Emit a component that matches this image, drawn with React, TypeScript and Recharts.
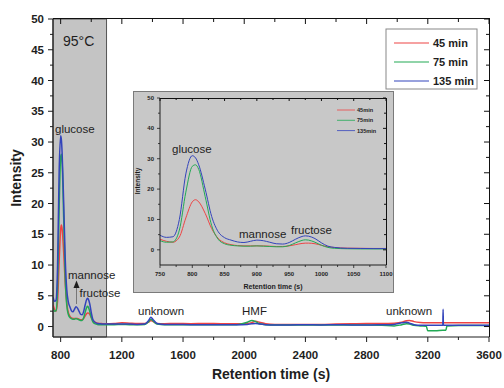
import React from "react";
import { LineChart, Line, XAxis, YAxis, ReferenceArea } from "recharts";

// retention time (s) and intensity of the three reaction times
const time = [
  750, 760, 770, 780, 790, 800, 805, 810, 820, 830, 840, 850, 860, 870, 880, 890, 900, 910, 920, 930,
  940, 950, 960, 970, 975, 980, 990, 1000, 1010, 1020, 1040, 1060, 1080, 1100, 1150, 1200, 1250, 1300,
  1350, 1375, 1390, 1405, 1430, 1480, 1550, 1650, 1750, 1850, 1950, 2020, 2050, 2075, 2100, 2140, 2200,
  2300, 2400, 2500, 2600, 2700, 2800, 2900, 2980, 3030, 3060, 3080, 3110, 3150, 3190, 3200, 3250, 3298,
  3300, 3302, 3318, 3325, 3400, 3500, 3600,
];
const min45 = [
  3.5, 2.8, 2.5, 4.2, 10.5, 15.8, 16.5, 15.8, 12, 7, 3.8, 2.3, 1.7, 1.4, 1.3, 1.3, 1.3, 1.3, 1.2, 1.1,
  1.1, 1.3, 1.7, 2.1, 2.2, 2.2, 2.0, 1.5, 1.0, 0.75, 0.55, 0.5, 0.45, 0.45, 0.5, 0.6, 0.55, 0.5,
  0.5, 0.7, 1.0, 0.8, 0.5, 0.45, 0.5, 0.45, 0.5, 0.45, 0.45, 0.5, 0.65, 0.85, 0.7, 0.45, 0.35,
  0.35, 0.35, 0.35, 0.4, 0.45, 0.5, 0.5, 0.55, 0.7, 0.95, 1.0, 0.8, 0.65, 0.6, 0.6, 0.6, 0.6,
  0.6, 0.6, 0.6, 0.6, 0.6, 0.6, 0.6,
];
const min75 = [
  3.0, 2.5, 2.6, 6.5, 19, 27.5, 28, 26.5, 17.5, 8, 3.5, 2.0, 1.5, 1.3, 1.2, 1.2, 1.3, 1.2, 1.1, 1.0,
  1.0, 1.4, 2.3, 3.1, 3.3, 3.2, 2.5, 1.5, 0.8, 0.5, 0.35, 0.3, 0.3, 0.3, 0.3, 0.35, 0.3, 0.3,
  0.35, 0.8, 1.2, 0.9, 0.4, 0.3, 0.3, 0.3, 0.3, 0.3, 0.3, 0.7, 1.0, 0.8, 0.45, 0.3, 0.25,
  0.25, 0.25, 0.25, 0.25, 0.25, 0.25, 0.2, 0.1, 0.3, 0.45, 0.4, 0.2, 0.1, 0.05, -0.7, -0.7, -0.6,
  -0.6, -0.6, -0.6, 0.1, 0.15, 0.15, 0.15,
];
const min135 = [
  4.8, 4.1, 4.3, 10, 25, 31, 30.3, 28, 20, 11, 6, 4, 3.2, 2.6, 2.4, 2.8, 3.2, 3.0, 2.5, 2.0,
  1.9, 2.4, 3.5, 4.4, 4.6, 4.5, 3.7, 2.3, 1.2, 0.8, 0.5, 0.45, 0.4, 0.4, 0.4, 0.4, 0.4, 0.35,
  0.4, 1.0, 1.5, 1.1, 0.5, 0.35, 0.35, 0.3, 0.3, 0.3, 0.3, 0.35, 0.45, 0.5, 0.4, 0.3, 0.25,
  0.25, 0.3, 0.25, 0.3, 0.25, 0.25, 0.3, 0.35, 0.6, 0.7, 0.55, 0.3, 0.2, 0.2, 0.2, 0.2, 0.2,
  2.8, 0.2, 0.2, 0.2, 0.2, 0.2, 0.2,
];

const seriesNames = ["45 min", "75 min", "135 min"];
const insetNames = ["45min", "75min", "135min"];
const colors = ["#ee4444", "#22aa55", "#3344bb"];
const keys = ["a", "b", "c"];

const xMainTicks = [800, 1000, 1200, 1400, 1600, 1800, 2000, 2200, 2400, 2600, 2800, 3000, 3200, 3400, 3600];
const yMainTicks = [0, 2.5, 5, 7.5, 10, 12.5, 15, 17.5, 20, 22.5, 25, 27.5, 30, 32.5, 35, 37.5, 40, 42.5, 45, 47.5, 50];
const xInsetTicks = [750, 775, 800, 825, 850, 875, 900, 925, 950, 975, 1000, 1025, 1050, 1075, 1100];
const yInsetTicks = [0, 5, 10, 15, 20, 25, 30, 35, 40, 45, 50];

const data = time.map((t, i) => ({ t, a: min45[i], b: min75[i], c: min135[i] }));

const FONT = "'Liberation Sans', Arial, sans-serif";
const INK = "#1e1e1e";

// plot boxes (page px) and domains, shared by charts and frame overlay
const MAIN = { l: 53, r: 489, t: 19, b: 337, x0: 750, x1: 3600, y0: -1.7, y1: 50 };
const INSET = { l: 160, r: 386, t: 98, b: 265, x0: 750, x1: 1100, y0: -5, y1: 50 };

const BottomTick = (p: any) => {
  const major = p.payload.value % 400 === 0;
  return (
    <g>
      <line x1={p.x} x2={p.x} y1={p.y} y2={p.y + (major ? 5 : 3)} stroke={INK} />
      {major && (
        <text x={p.x} y={p.y + 22} textAnchor="middle" fontSize={11.5} fontWeight="bold" fill={INK} fontFamily={FONT}>
          {p.payload.value}
        </text>
      )}
    </g>
  );
};
const LeftTick = (p: any) => {
  const major = p.payload.value % 5 === 0;
  return (
    <g>
      <line x1={p.x - (major ? 5 : 3)} x2={p.x} y1={p.y} y2={p.y} stroke={INK} />
      {major && (
        <text x={p.x - 9} y={p.y + 4} textAnchor="end" fontSize={11.5} fontWeight="bold" fill={INK} fontFamily={FONT}>
          {p.payload.value}
        </text>
      )}
    </g>
  );
};
const InsetBottomTick = (p: any) => {
  const major = p.payload.value % 50 === 0;
  return (
    <g>
      <line x1={p.x} x2={p.x} y1={p.y} y2={p.y + (major ? 3 : 2)} stroke={INK} strokeWidth={0.8} />
      {major && (
        <text x={p.x} y={p.y + 11} textAnchor="middle" fontSize={6} fontWeight="bold" fill={INK} fontFamily={FONT}>
          {p.payload.value}
        </text>
      )}
    </g>
  );
};
const InsetLeftTick = (p: any) => {
  const major = p.payload.value % 10 === 0;
  return (
    <g>
      <line x1={p.x - (major ? 3 : 2)} x2={p.x} y1={p.y} y2={p.y} stroke={INK} strokeWidth={0.8} />
      {major && (
        <text x={p.x - 6} y={p.y + 2} textAnchor="end" fontSize={6} fontWeight="bold" fill={INK} fontFamily={FONT}>
          {p.payload.value}
        </text>
      )}
    </g>
  );
};

const MainChart = () => (
  <LineChart width={504} height={388} data={data} margin={{ top: MAIN.t, right: 504 - MAIN.r, left: 0, bottom: 0 }}>
    <XAxis
      xAxisId="x"
      dataKey="t"
      type="number"
      domain={[MAIN.x0, MAIN.x1]}
      allowDataOverflow
      ticks={xMainTicks}
      interval={0}
      tickSize={0}
      tickMargin={0}
      height={388 - MAIN.b}
      tick={BottomTick}
      axisLine={{ stroke: INK, strokeWidth: 1.2 }}
    />
    <YAxis
      yAxisId="y"
      type="number"
      domain={[MAIN.y0, MAIN.y1]}
      allowDataOverflow
      ticks={yMainTicks}
      interval={0}
      tickSize={0}
      tickMargin={0}
      width={MAIN.l}
      tick={LeftTick}
      axisLine={{ stroke: INK, strokeWidth: 1.2 }}
    />
    <ReferenceArea xAxisId="x" yAxisId="y" x1={750} x2={1100} fill="#c4c4c4" fillOpacity={1} stroke="#555" strokeWidth={1} />
    {keys.map((k, i) => (
      <Line
        key={k}
        xAxisId="x"
        yAxisId="y"
        dataKey={k}
        name={seriesNames[i]}
        type="monotone"
        stroke={colors[i]}
        strokeWidth={1.5}
        dot={false}
        isAnimationActive={false}
      />
    ))}
  </LineChart>
);

const InsetChart = () => (
  <div
    style={{
      position: "absolute",
      left: 133,
      top: 91,
      width: 261,
      height: 202,
      boxSizing: "border-box",
      background: "#c8c8c8",
      border: "1px solid #7a7a7a",
    }}
  >
    <LineChart width={259} height={200} data={data} margin={{ top: INSET.t - 92, right: 393 - INSET.r, left: 0, bottom: 0 }}>
      <XAxis
        xAxisId="x"
        dataKey="t"
        type="number"
        domain={[INSET.x0, INSET.x1]}
        allowDataOverflow
        ticks={xInsetTicks}
        interval={0}
        tickSize={0}
        tickMargin={0}
        height={292 - INSET.b}
        tick={InsetBottomTick}
        axisLine={{ stroke: INK, strokeWidth: 1 }}
      />
      <YAxis
        yAxisId="y"
        type="number"
        domain={[INSET.y0, INSET.y1]}
        allowDataOverflow
        ticks={yInsetTicks}
        interval={0}
        tickSize={0}
        tickMargin={0}
        width={INSET.l - 134}
        tick={InsetLeftTick}
        axisLine={{ stroke: INK, strokeWidth: 1 }}
      />
      {keys.map((k, i) => (
        <Line
          key={k}
          xAxisId="x"
          yAxisId="y"
          dataKey={k}
          type="monotone"
          stroke={colors[i]}
          strokeWidth={1}
          dot={false}
          isAnimationActive={false}
        />
      ))}
    </LineChart>
  </div>
);

// top/right border of a plot box as a plain html box
const Border = ({ box, w }: any) => (
  <div
    style={{
      position: "absolute",
      left: box.l,
      top: box.t - w / 2,
      width: box.r - box.l + w / 2,
      height: box.b - box.t + w / 2,
      boxSizing: "border-box",
      borderTop: `${w}px solid #111`,
      borderRight: `${w}px solid #111`,
      pointerEvents: "none",
    }}
  />
);

// inward ticks on the top and right edges
const FrameTicks = ({ box, xt, yt, majX, majY, len }: any) => {
  const px = (v: number) => box.l + ((v - box.x0) / (box.x1 - box.x0)) * (box.r - box.l);
  const py = (v: number) => box.b - ((v - box.y0) / (box.y1 - box.y0)) * (box.b - box.t);
  return (
    <g>
      {xt.map((v: number) => (
        <line key={"x" + v} x1={px(v)} x2={px(v)} y1={box.t} y2={box.t + (majX(v) ? len[0] : len[1])} stroke="#111" strokeWidth={1} />
      ))}
      {yt.map((v: number) => (
        <line key={"y" + v} x1={box.r - (majY(v) ? len[0] : len[1])} x2={box.r} y1={py(v)} y2={py(v)} stroke="#111" strokeWidth={1} />
      ))}
    </g>
  );
};

const txt = { fontFamily: FONT, fill: INK } as const;

const Overlay = () => (
  <svg width={504} height={388} style={{ position: "absolute", left: 0, top: 0, pointerEvents: "none" }}>
    <FrameTicks
      box={MAIN}
      xt={xMainTicks}
      yt={yMainTicks}
      majX={(v: number) => v % 400 === 0}
      majY={(v: number) => v % 5 === 0}
      len={[5, 3]}
    />
    {/* axis titles */}
    <text {...txt} x={271} y={379} textAnchor="middle" fontSize={14} fontWeight="bold">
      Retention time (s)
    </text>
    <text {...txt} transform="translate(21,178) rotate(-90)" textAnchor="middle" fontSize={14} fontWeight="bold">
      Intensity
    </text>

    {/* main annotations */}
    <text {...txt} x={63} y={46} fontSize={14}>95°C</text>
    <text {...txt} x={55} y={133} fontSize={11.5}>glucose</text>
    <text {...txt} x={68} y={279} fontSize={11.5}>mannose</text>
    <text {...txt} x={79.5} y={297} fontSize={11.5}>fructose</text>
    <line x1={76.5} x2={76.5} y1={287} y2={304} stroke="#777" strokeWidth={1} />
    <polygon points="76.5,280.5 73.5,288 79.5,288" fill={INK} />
    <text {...txt} x={138} y={315} fontSize={11.5}>unknown</text>
    <text {...txt} x={242} y={315} fontSize={11.5}>HMF</text>
    <text {...txt} x={386} y={315} fontSize={11.5}>unknown</text>

    {/* main legend */}
    <rect x={386} y={29} width={91} height={60} fill="#fff" stroke="#888" strokeWidth={1} />
    {seriesNames.map((n, i) => (
      <g key={n}>
        <line x1={394} x2={429} y1={43 + i * 19} y2={43 + i * 19} stroke={colors[i]} strokeWidth={1.2} />
        <text {...txt} x={433} y={47 + i * 19} fontSize={11} fontWeight="bold">
          {n}
        </text>
      </g>
    ))}
  </svg>
);

const InsetOverlay = () => (
  <svg width={504} height={388} style={{ position: "absolute", left: 0, top: 0, pointerEvents: "none" }}>
    <FrameTicks
      box={INSET}
      xt={xInsetTicks}
      yt={yInsetTicks}
      majX={(v: number) => v % 50 === 0}
      majY={(v: number) => v % 10 === 0}
      len={[3, 2]}
    />
    <text {...txt} x={273} y={289} textAnchor="middle" fontSize={7} fontWeight="bold">
      Retention time (s)
    </text>
    <text {...txt} transform="translate(140,181) rotate(-90)" textAnchor="middle" fontSize={6.5} fontWeight="bold">
      Intensity
    </text>
    <text {...txt} x={172} y={153} fontSize={11.5}>glucose</text>
    <text {...txt} x={239} y={238} fontSize={11.5}>mannose</text>
    <text {...txt} x={291} y={233.5} fontSize={11.5}>fructose</text>
    {insetNames.map((n, i) => (
      <g key={n}>
        <line x1={337} x2={355} y1={110 + i * 10.3} y2={110 + i * 10.3} stroke={colors[i]} strokeWidth={0.8} />
        <text {...txt} x={357} y={112 + i * 10.3} fontSize={5.6} fontWeight="bold">
          {n}
        </text>
      </g>
    ))}
  </svg>
);

export default function App() {
  return (
    <div style={{ position: "fixed", left: 0, top: 0, width: 504, height: 388, background: "#fff" }}>
      <MainChart />
      <Overlay />
      <Border box={MAIN} w={1.5} />
      <InsetChart />
      <InsetOverlay />
      <Border box={INSET} w={1} />
    </div>
  );
}
